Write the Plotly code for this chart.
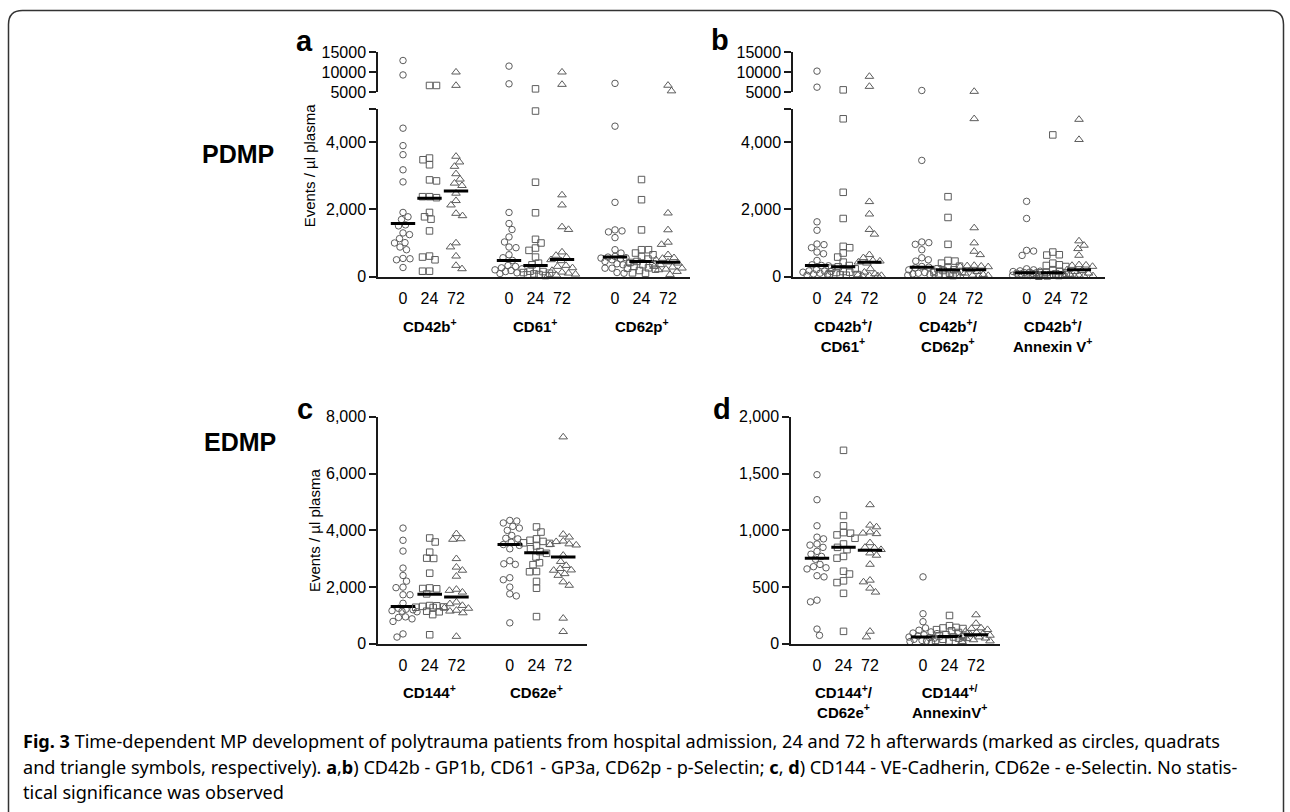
import numpy as np
import plotly.graph_objects as go

W, H = 1290, 812
# the photographed page shows a small vertical offset/scale; positions below are
# given in reference pixels and mapped through this correction
OY, SY = 8.0, 0.977


def fx(p):
    return p / W


def fy(p):
    return 1 - ((p - OY) / SY) / H


TIMES = ["0", "24", "72"]

# ---------------- Panel a (PDMP) ----------------
A_GROUPS = ["CD42b<sup>+</sup>", "CD61<sup>+</sup>", "CD62p<sup>+</sup>"]
A_CD42B_0 = [12900, 9300, 4420, 3900, 3630, 3180, 2820, 1910, 1780, 1700, 1540, 1510,
             1300, 1250, 1130, 1010, 1000, 880, 800, 540, 530, 500, 270]
A_CD42B_24 = [6670, 6670, 3530, 3480, 3330, 2880, 2850, 2380, 2380, 2350, 1910, 1780,
              1710, 1360, 610, 580, 500, 160, 160]
A_CD42B_72 = [10000, 6670, 3580, 3410, 3280, 3060, 2900, 2780, 2710, 2480, 2260, 2130,
              1880, 1810, 1000, 880, 610, 330, 230]
A_CD61_0 = [11500, 7080, 1910, 1580, 1400, 1180, 1030, 880, 860, 650, 560, 480, 330,
            300, 260, 230, 200, 180, 150, 110, 90]
A_CD61_24 = [5830, 4930, 2810, 1900, 1110, 1000, 850, 780, 580, 400, 350, 200, 160, 150,
             120, 100, 80, 60, 50, 30]
A_CD61_72 = [10000, 6920, 2430, 2130, 1480, 1400, 730, 630, 580, 500, 470, 330, 300, 260,
             180, 130, 100, 70, 40, 30]
A_CD62P_0 = [7200, 4480, 2210, 1390, 1360, 1330, 1160, 800, 700, 600, 580, 560, 550, 530,
             500, 450, 400, 380, 350, 250, 250, 120, 100]
A_CD62P_24 = [2890, 2290, 1390, 800, 800, 700, 650, 600, 520, 450, 420, 380, 350, 300, 260,
              250, 220, 180, 110, 100]
A_CD62P_72 = [6700, 5300, 1890, 1390, 1020, 955, 650, 560, 540, 500, 430, 400, 350, 300,
              280, 250, 220, 200, 150, 60]
A_MEDIANS = [[1580, 2330, 2550], [480, 330, 510], [580, 450, 430]]

# ---------------- Panel b (PDMP double positive) ----------------
B_GROUPS = ["CD42b<sup>+</sup>/<br>CD61<sup>+</sup>", "CD42b<sup>+</sup>/<br>CD62p<sup>+</sup>",
            "CD42b<sup>+</sup>/<br>Annexin V<sup>+</sup>"]
B_CD61_0 = [10250, 6250, 1630, 1380, 970, 950, 860, 730, 680, 480, 350, 330, 320, 200, 170,
            160, 150, 130, 100, 80, 60, 40]
B_CD61_24 = [5580, 4700, 2510, 1730, 900, 860, 700, 580, 430, 330, 290, 250, 230, 150, 130,
             120, 80, 60, 50, 40]
B_CD61_72 = [8920, 6420, 2230, 1860, 1400, 1260, 650, 560, 480, 460, 430, 400, 230, 130, 80,
             50, 30, 30, 20, 20]
B_CD62P_0 = [5420, 3460, 1030, 1010, 960, 800, 560, 500, 460, 300, 280, 260, 200, 150, 120,
             100, 80, 60, 40]
B_CD62P_24 = [2380, 1760, 960, 480, 460, 400, 310, 260, 230, 200, 180, 150, 120, 100, 80, 60,
              40, 30]
B_CD62P_72 = [5170, 4700, 1450, 1000, 750, 650, 330, 320, 310, 300, 290, 200, 150, 100, 60,
              40, 30, 20, 20]
B_ANX_0 = [2240, 1730, 780, 760, 630, 230, 200, 170, 160, 150, 130, 120, 110, 100, 90, 80,
           70, 50, 40, 30]
B_ANX_24 = [4220, 730, 650, 640, 400, 350, 330, 300, 180, 150, 120, 110, 100, 80, 60, 50,
            40, 30, 20, 10]
B_ANX_72 = [4680, 4080, 1060, 930, 830, 630, 350, 340, 330, 300, 200, 180, 150, 100, 60, 40,
            30, 20, 20, 10]
B_MEDIANS = [[330, 290, 430], [280, 200, 200], [110, 110, 200]]

# ---------------- Panel c (EDMP) ----------------
C_GROUPS = ["CD144<sup>+</sup>", "CD62e<sup>+</sup>"]
C_CD144_0 = [4080, 3650, 3270, 2670, 2410, 2210, 2000, 1980, 1730, 1730, 1430, 1250, 1220,
             1200, 1170, 1150, 1130, 950, 930, 880, 790, 350, 240]
C_CD144_24 = [3730, 3590, 3230, 3020, 3010, 2490, 1970, 1950, 1940, 1760, 1350, 1340, 1320,
              1300, 1290, 1280, 1150, 1130, 1030, 320]
C_CD144_72 = [3880, 3700, 3680, 3000, 2700, 2590, 2380, 1920, 1880, 1820, 1470, 1410, 1350,
              1270, 1250, 1180, 1150, 1090, 260]
C_CD62E_0 = [4350, 4330, 4260, 4140, 4080, 4000, 3820, 3720, 3700, 3580, 3500, 3470, 3350,
             2930, 2820, 2800, 2330, 2260, 2000, 1760, 1690, 740]
C_CD62E_24 = [4120, 3940, 3700, 3650, 3610, 3560, 3540, 3450, 3350, 3250, 3190, 3060, 2860,
              2790, 2550, 2540, 2200, 1960, 960]
C_CD62E_72 = [7290, 3860, 3760, 3620, 3600, 3520, 3500, 3480, 3120, 2900, 2760, 2650, 2600,
              2590, 2470, 2410, 2180, 2060, 900, 430]
C_MEDIANS = [[1320, 1750, 1650], [3500, 3210, 3060]]

# ---------------- Panel d (EDMP double positive) ----------------
D_GROUPS = ["CD144<sup>+</sup>/<br>CD62e<sup>+</sup>", "CD144<sup>+/</sup><br>AnnexinV<sup>+</sup>"]
D_CD62E_0 = [1490, 1270, 1040, 940, 925, 880, 870, 850, 815, 790, 770, 745, 700, 680, 670,
             660, 600, 590, 385, 370, 130, 75]
D_CD62E_24 = [1705, 1130, 1040, 980, 975, 960, 930, 880, 850, 830, 770, 755, 640, 615, 555,
              540, 445, 110]
D_CD62E_72 = [1225, 1045, 1030, 985, 975, 970, 890, 850, 845, 830, 800, 780, 700, 560, 545,
              490, 455, 110, 60]
D_ANX_0 = [590, 265, 195, 140, 120, 105, 95, 90, 80, 70, 60, 55, 50, 40, 30, 25, 20, 15]
D_ANX_24 = [250, 160, 145, 140, 135, 125, 115, 100, 80, 70, 65, 60, 50, 40, 30, 25, 20]
D_ANX_72 = [255, 180, 140, 135, 125, 110, 100, 90, 80, 75, 70, 60, 50, 45, 35, 25, 20]
D_MEDIANS = [[755, 850, 825], [60, 65, 80]]

A_TICKS = [0, 2000, 4000, 5000]
A_TICKTEXT = ["0", "2,000", "4,000", ""]
UP_TICKS = [5000, 10000, 15000]
UP_TICKTEXT = ["5000", "10000", "15000"]
C_TICKS = [0, 2000, 4000, 6000, 8000]
C_TICKTEXT = ["0", "2,000", "4,000", "6,000", "8,000"]
D_TICKS = [0, 500, 1000, 1500, 2000]
D_TICKTEXT = ["0", "500", "1,000", "1,500", "2,000"]

CAPTION = [
    "<b>Fig. 3</b> Time-dependent MP development of polytrauma patients from hospital admission, "
    "24 and 72 h afterwards (marked as circles, quadrats",
    "and triangle symbols, respectively). <b>a</b>,<b>b</b>) CD42b - GP1b, CD61 - GP3a, CD62p - "
    "p-Selectin; <b>c</b>, <b>d</b>) CD144 - VE-Cadherin, CD62e - e-Selectin. No statis-",
    "tical significance was observed",
]

# ---------------- geometry (reference pixels) ----------------
panels = [
    dict(cols=[[A_CD42B_0, A_CD42B_24, A_CD42B_72], [A_CD61_0, A_CD61_24, A_CD61_72],
               [A_CD62P_0, A_CD62P_24, A_CD62P_72]],
         med=A_MEDIANS, groups=A_GROUPS, xa="x", ya="y", yu="y2",
         x0=403, unit=26.5, xl=378, xr=690, ybot=276, ytop=108.5, lo=(0, 5000),
         up=(5000, 15000), upy=(92, 52), ticks=(A_TICKS, A_TICKTEXT), glab_y=313),
    dict(cols=[[B_CD61_0, B_CD61_24, B_CD61_72], [B_CD62P_0, B_CD62P_24, B_CD62P_72],
               [B_ANX_0, B_ANX_24, B_ANX_72]],
         med=B_MEDIANS, groups=B_GROUPS, xa="x2", ya="y3", yu="y4",
         x0=817, unit=26.2, xl=793, xr=1105, ybot=276, ytop=108.5, lo=(0, 5000),
         up=(5000, 15000), upy=(92, 52), ticks=(A_TICKS, A_TICKTEXT), glab_y=313),
    dict(cols=[[C_CD144_0, C_CD144_24, C_CD144_72], [C_CD62E_0, C_CD62E_24, C_CD62E_72]],
         med=C_MEDIANS, groups=C_GROUPS, xa="x3", ya="y5", yu=None,
         x0=403, unit=26.7, xl=378, xr=587, ybot=642.5, ytop=416, lo=(0, 8000),
         up=None, upy=None, ticks=(C_TICKS, C_TICKTEXT), glab_y=679),
    dict(cols=[[D_CD62E_0, D_CD62E_24, D_CD62E_72], [D_ANX_0, D_ANX_24, D_ANX_72]],
         med=D_MEDIANS, groups=D_GROUPS, xa="x4", ya="y6", yu=None,
         x0=817, unit=26.5, xl=791, xr=1000, ybot=642.5, ytop=416, lo=(0, 2000),
         up=None, upy=None, ticks=(D_TICKS, D_TICKTEXT), glab_y=679),
]

SYMBOLS = ["circle-open", "square-open", "triangle-up-open"]
SIZES = [6.5, 6.5, 7.5]
MCOLOR = "#5c5c5c"
AXC = "#1a1a1a"
FONT = "Liberation Sans, Arial, sans-serif"


def ypix(v, p):
    lo0, lo1 = p["lo"]
    if p["up"] is not None and v > lo1:
        u0, u1 = p["up"]
        return p["upy"][0] + (v - u0) / (u1 - u0) * (p["upy"][1] - p["upy"][0])
    return p["ybot"] + (v - lo0) / (lo1 - lo0) * (p["ytop"] - p["ybot"])


def swarm(yp, d=6.6, maxoff=14.0, step=0.5):
    n = len(yp)
    offs = np.zeros(n)
    placed = []
    cands = [0.0]
    k = 1
    while k * step <= maxoff:
        cands += [k * step, -k * step]
        k += 1
    flip = False
    for i in np.argsort(yp):
        y = yp[i]
        best, bestd, chosen = 0.0, -1.0, None
        for c in cands:
            cc = -c if flip else c
            md = min([np.hypot(cc - px, y - py) for px, py in placed], default=1e9)
            if md >= d:
                chosen = cc
                break
            if md > bestd:
                bestd, best = md, cc
        if chosen is None:
            chosen = best
        if chosen != 0:
            flip = not flip
        offs[i] = chosen
        placed.append((chosen, y))
    return offs


fig = go.Figure()
layout = dict(width=W, height=H, margin=dict(l=0, r=0, t=0, b=0),
              paper_bgcolor="white", plot_bgcolor="white", showlegend=False,
              font=dict(family=FONT, color="black"))
annotations = []

for p in panels:
    xs_key = "xaxis" + p["xa"][1:]
    ylo_key = "yaxis" + p["ya"][1:]
    nx = len(p["cols"])
    tickpos = [4 * g + t for g in range(nx) for t in range(3)]
    layout[xs_key] = dict(
        domain=[fx(p["xl"]), fx(p["xr"])],
        range=[(p["xl"] - p["x0"]) / p["unit"], (p["xr"] - p["x0"]) / p["unit"]],
        anchor=p["ya"], showline=True, linecolor=AXC, linewidth=1.5, showgrid=False,
        zeroline=False, tickmode="array", tickvals=tickpos, ticktext=TIMES * nx,
        ticks="outside", ticklen=6.5, tickcolor="rgba(0,0,0,0)",
        tickfont=dict(size=16, family=FONT, color="black"), fixedrange=True)
    layout[ylo_key] = dict(
        domain=[fy(p["ybot"]), fy(p["ytop"])], range=list(p["lo"]), anchor=p["xa"],
        showline=True, linecolor=AXC, linewidth=1.5, showgrid=False, zeroline=False,
        tickmode="array", tickvals=p["ticks"][0], ticktext=p["ticks"][1],
        ticks="outside", ticklen=7, tickwidth=1.5, tickcolor=AXC,
        tickfont=dict(size=16, family=FONT, color="black"), fixedrange=True)
    if p["yu"] is not None:
        yu_key = "yaxis" + p["yu"][1:]
        layout[yu_key] = dict(
            domain=[fy(p["upy"][0]), fy(p["upy"][1])], range=list(p["up"]), anchor=p["xa"],
            showline=True, linecolor=AXC, linewidth=1.5, showgrid=False, zeroline=False,
            tickmode="array", tickvals=UP_TICKS, ticktext=UP_TICKTEXT,
            ticks="outside", ticklen=7, tickwidth=1.5, tickcolor=AXC,
            tickfont=dict(size=16, family=FONT, color="black"), fixedrange=True)

    for g, grp in enumerate(p["cols"]):
        for t, vals in enumerate(grp):
            vals = np.asarray(vals, dtype=float)
            yp = np.array([ypix(v, p) for v in vals])
            offs = swarm(yp) / p["unit"]
            xs = 4 * g + t + offs
            if p["yu"] is not None:
                upm = vals > p["lo"][1]
            else:
                upm = np.zeros(len(vals), dtype=bool)
            for mask, yax in ((~upm, p["ya"]), (upm, p["yu"])):
                if mask.sum() == 0:
                    continue
                fig.add_trace(go.Scatter(
                    x=xs[mask], y=vals[mask], mode="markers", xaxis=p["xa"], yaxis=yax,
                    cliponaxis=False, hoverinfo="skip",
                    marker=dict(symbol=SYMBOLS[t], size=SIZES[t], color=MCOLOR,
                                line=dict(width=1, color=MCOLOR))))
            m = p["med"][g][t]
            c = 4 * g + t
            fig.add_trace(go.Scatter(
                x=[c - 0.46, c + 0.46], y=[m, m], mode="lines", xaxis=p["xa"], yaxis=p["ya"],
                cliponaxis=False, hoverinfo="skip", line=dict(color="black", width=3)))

    for g, lab in enumerate(p["groups"]):
        cx = p["x0"] + p["unit"] * (4 * g + 1)
        annotations.append(dict(
            x=fx(cx), y=fy(p["glab_y"]), xref="paper", yref="paper", xanchor="center",
            yanchor="top", showarrow=False, text="<b>" + lab + "</b>", align="center",
            font=dict(size=15, family=FONT, color="black")))

# panel letters, row titles, axis titles
for txt, x, y in (("a", 304, 41), ("b", 720, 40), ("c", 305, 408), ("d", 722, 408)):
    annotations.append(dict(x=fx(x), y=fy(y), xref="paper", yref="paper", xanchor="center",
                            yanchor="middle", showarrow=False, text="<b>" + txt + "</b>",
                            font=dict(size=29, family=FONT, color="black")))
for txt, x, y in (("PDMP", 238, 154), ("EDMP", 240, 441)):
    annotations.append(dict(x=fx(x), y=fy(y), xref="paper", yref="paper", xanchor="center",
                            yanchor="middle", showarrow=False, text="<b>" + txt + "</b>",
                            font=dict(size=25, family=FONT, color="black")))
for x, y in ((309, 165), (314, 529)):
    annotations.append(dict(x=fx(x), y=fy(y), xref="paper", yref="paper", xanchor="center",
                            yanchor="middle", showarrow=False, textangle=-90,
                            text="Events / µl plasma",
                            font=dict(size=15, family=FONT, color="black")))

# caption
for line, y in zip(CAPTION, (739, 765, 790)):
    annotations.append(dict(x=fx(21), y=fy(y), xref="paper", yref="paper", xanchor="left",
                            yanchor="middle", showarrow=False, text=line, align="left",
                            font=dict(size=18.1, family="Noto Sans, Open Sans, sans-serif",
                                      color="black")))

layout["annotations"] = annotations

# outer rounded frame
L, T, R, B, r = 8.5, 10.5, 1283.5, 880, 14
path = (f"M {fx(L)},{fy(B)} L {fx(L)},{fy(T + r)} Q {fx(L)},{fy(T)} {fx(L + r)},{fy(T)} "
        f"L {fx(R - r)},{fy(T)} Q {fx(R)},{fy(T)} {fx(R)},{fy(T + r)} L {fx(R)},{fy(B)}")
layout["shapes"] = [dict(type="path", xref="paper", yref="paper", path=path,
                         line=dict(color="#333333", width=1.5))]

fig.update_layout(**layout)
POST = ("var gd=document.getElementById('{plot_id}');"
        "gd.style.position='fixed';gd.style.left='0px';gd.style.top='0px';"
        "document.body.style.margin='0';document.body.style.overflow='hidden';")
fig.write_html("out.html", config={"displayModeBar": False}, post_script=POST)
